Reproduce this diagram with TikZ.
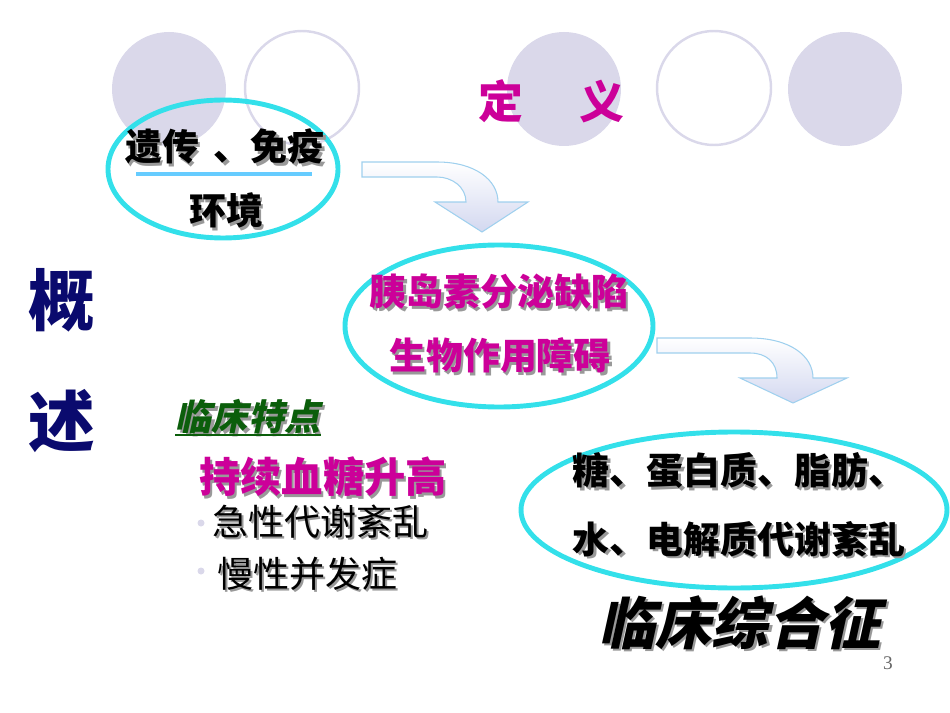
\documentclass[tikz,border=0pt]{standalone}
\usepackage{fontspec}
\setmainfont{Liberation Serif}
\newfontfamily\cjk{Noto Sans CJK SC}
\newfontfamily\cjkit{Noto Sans CJK SC}[FakeSlant=0.22]
\definecolor{lavender}{HTML}{DAD8EA}
\definecolor{ringcyan}{HTML}{33E0EA}
\definecolor{barblue}{HTML}{66CCFF}
\definecolor{titlemag}{HTML}{CC0099}
\definecolor{navy}{HTML}{0A0A6E}
\definecolor{featgreen}{HTML}{0B5E0B}
\definecolor{arrowline}{HTML}{9FD0EE}
\definecolor{arrowfill}{HTML}{D3D8F0}
% text with a grey drop shadow
\newcommand\shadtext[1]{\leavevmode\rlap{\kern1.3pt\raisebox{-1.3pt}{\textcolor{black!40}{#1}}}#1}
\begin{document}
\begin{tikzpicture}[x=0.02cm,y=-0.02cm]
	\tikzset{disc/.style={fill=lavender, draw=none},
		ring/.style={draw=lavender, line width=1.4pt},
		oval/.style={draw=ringcyan, line width=2.8pt},
		bend arrow/.style={draw=arrowline, line width=0.6pt, top color=white, bottom color=arrowfill},
		txt/.style={inner sep=0pt, font=\cjk\bfseries\fontsize{21pt}{21pt}\selectfont}}
	\useasboundingbox (0,0) rectangle (950,713);
	
	% Draw the circles on top
	\fill[disc] (169,89) circle (57);
	\draw[ring] (302,88) circle (57);
	\fill[disc] (564,89) circle (57);
	\draw[ring] (714,88) circle (57);
	\fill[disc] (845,89) circle (57);
	
	\node (title) at (551,101) {\cjk\bfseries\fontsize{25.5pt}{25.5pt}\selectfont\color{titlemag}定\hspace{1.25em}义};
	
	% the three ovals
	\draw[oval] (223,169) ellipse [x radius=115, y radius=69];
	\draw[oval] (499,326) ellipse [x radius=154, y radius=81];
	\draw[oval] (734,510) ellipse [x radius=213, y radius=78];
	
	% bent arrows
	\draw[bend arrow] (362,162) -- (437,162) .. controls (475,162) and (498,180) .. (498,202) -- (528,202) -- (482,232) -- (435,202) -- (466,202) .. controls (466,187) and (452,177) .. (437,177) -- (362,177) -- cycle;
	\draw[bend arrow] (657,338) -- (750,338) .. controls (790,338) and (813,356) .. (813,378) -- (847,378) -- (793,403) -- (740,378) -- (777,378) .. controls (777,362) and (766,353) .. (750,353) -- (657,353) -- cycle;
	
	\node[txt] (gene) at (225,148) {\shadtext{遗传\hspace{0.4em}、免疫}};
	\draw[barblue, line width=2.8pt] (136,174) -- (312,174);
	\node[txt] (env) at (226,212) {\shadtext{环境}};
	
	\node[txt, text=titlemag] (insulin) at (499,293) {\shadtext{胰岛素分泌缺陷}};
	\node[txt, text=titlemag] (action) at (500,357) {\shadtext{生物作用障碍}};
	
	\node[txt] (meta1) at (739,472) {\shadtext{糖、蛋白质、脂肪、}};
	\node[txt] (meta2) at (739,540) {\shadtext{水、电解质代谢紊乱}};
	\node[inner sep=0pt] (syndrome) at (740,624) {\cjkit\bfseries\fontsize{32pt}{32pt}\selectfont\shadtext{临床综合征}};
	
	\node[inner sep=0pt, text=black!60] (page) at (888,663) {\fontsize{11pt}{11pt}\selectfont 3};
	
	% left column
	\node[inner sep=0pt, text=navy] (gai) at (62,300) {\cjk\bfseries\fontsize{38pt}{38pt}\selectfont 概};
	\node[inner sep=0pt, text=navy] (shu) at (62,421) {\cjk\bfseries\fontsize{38pt}{38pt}\selectfont 述};
	
	\node[inner sep=0pt, text=featgreen] (feat) at (248,418) {\cjkit\bfseries\fontsize{20.5pt}{20.5pt}\selectfont\shadtext{临床特点}};
	\draw[featgreen, line width=1.1pt] (175,435) -- (321,435);
	
	\node[txt, text=titlemag] (sugar) at (323,478) {\fontsize{23.5pt}{23.5pt}\selectfont\shadtext{持续血糖升高}};
	\fill[disc] (201,523) circle (3.5);
	\fill[disc] (201,571) circle (3.5);
	\node[inner sep=0pt, anchor=west] (acute) at (212,523) {\cjk\fontsize{20.5pt}{20.5pt}\selectfont\shadtext{急性代谢紊乱}};
	\node[inner sep=0pt, anchor=west] (chronic) at (217,575) {\cjk\fontsize{20.5pt}{20.5pt}\selectfont\shadtext{慢性并发症}};
	
\end{tikzpicture}
\end{document}
